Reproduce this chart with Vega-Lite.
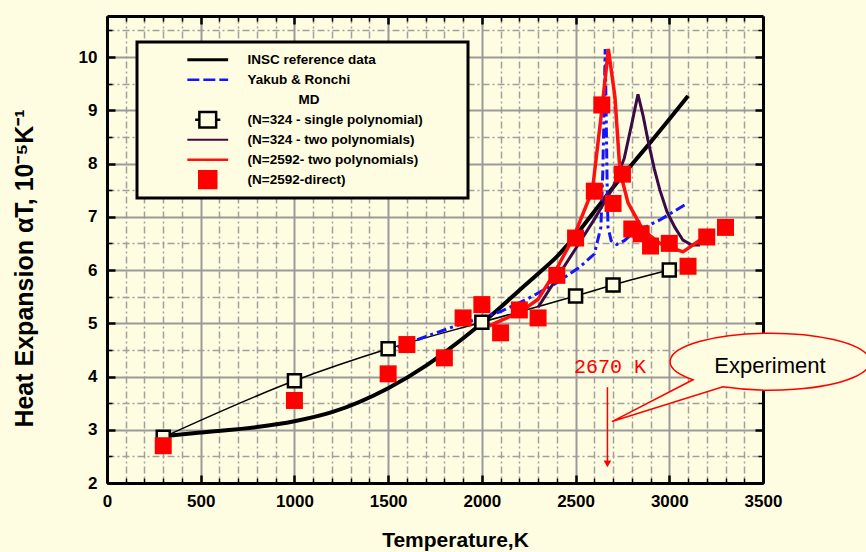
{
  "$schema": "https://vega.github.io/schema/vega-lite/v6.json",
  "width": 656,
  "height": 467,
  "autosize": {"type": "none"},
  "padding": {"left": 107, "top": 16, "right": 103, "bottom": 69},
  "background": "#fffde1",
  "config": {"view": {"stroke": null}, "font": "Liberation Sans"},
  "data": {"values": [
    {"series": "(N=324 - single polynomial)", "T": 300, "a": 2.86},
    {"series": "(N=324 - single polynomial)", "T": 1000, "a": 3.92},
    {"series": "(N=324 - single polynomial)", "T": 1500, "a": 4.52},
    {"series": "(N=324 - single polynomial)", "T": 2000, "a": 5.02},
    {"series": "(N=324 - single polynomial)", "T": 2500, "a": 5.51},
    {"series": "(N=324 - single polynomial)", "T": 2700, "a": 5.72},
    {"series": "(N=324 - single polynomial)", "T": 3000, "a": 6.0},
    {"series": "INSC reference data", "T": 300, "a": 2.88},
    {"series": "INSC reference data", "T": 500, "a": 2.95},
    {"series": "INSC reference data", "T": 800, "a": 3.05},
    {"series": "INSC reference data", "T": 1000, "a": 3.16},
    {"series": "INSC reference data", "T": 1200, "a": 3.33},
    {"series": "INSC reference data", "T": 1500, "a": 3.78},
    {"series": "INSC reference data", "T": 1700, "a": 4.2},
    {"series": "INSC reference data", "T": 1800, "a": 4.45},
    {"series": "INSC reference data", "T": 2000, "a": 5.0},
    {"series": "INSC reference data", "T": 2100, "a": 5.3},
    {"series": "INSC reference data", "T": 2200, "a": 5.62},
    {"series": "INSC reference data", "T": 2300, "a": 5.93},
    {"series": "INSC reference data", "T": 2400, "a": 6.25},
    {"series": "INSC reference data", "T": 2500, "a": 6.65},
    {"series": "INSC reference data", "T": 2600, "a": 7.1},
    {"series": "INSC reference data", "T": 2700, "a": 7.55},
    {"series": "INSC reference data", "T": 2800, "a": 7.98},
    {"series": "INSC reference data", "T": 2900, "a": 8.4},
    {"series": "INSC reference data", "T": 3000, "a": 8.83},
    {"series": "INSC reference data", "T": 3100, "a": 9.27},
    {"series": "Yakub & Ronchi", "T": 1550, "a": 4.55},
    {"series": "Yakub & Ronchi", "T": 1700, "a": 4.75},
    {"series": "Yakub & Ronchi", "T": 1900, "a": 5.0},
    {"series": "Yakub & Ronchi", "T": 2100, "a": 5.22},
    {"series": "Yakub & Ronchi", "T": 2250, "a": 5.47},
    {"series": "Yakub & Ronchi", "T": 2400, "a": 5.76},
    {"series": "Yakub & Ronchi", "T": 2520, "a": 6.05},
    {"series": "Yakub & Ronchi", "T": 2600, "a": 6.3},
    {"series": "Yakub & Ronchi", "T": 2635, "a": 6.8},
    {"series": "Yakub & Ronchi", "T": 2645, "a": 7.8},
    {"series": "Yakub & Ronchi", "T": 2652, "a": 9.0},
    {"series": "Yakub & Ronchi", "T": 2658, "a": 10.15},
    {"series": "Yakub & Ronchi", "T": 2663, "a": 9.0},
    {"series": "Yakub & Ronchi", "T": 2668, "a": 7.7},
    {"series": "Yakub & Ronchi", "T": 2673, "a": 6.8},
    {"series": "Yakub & Ronchi", "T": 2690, "a": 6.55},
    {"series": "Yakub & Ronchi", "T": 2720, "a": 6.48},
    {"series": "Yakub & Ronchi", "T": 2760, "a": 6.55},
    {"series": "Yakub & Ronchi", "T": 2806, "a": 6.69},
    {"series": "Yakub & Ronchi", "T": 2950, "a": 6.94},
    {"series": "Yakub & Ronchi", "T": 3100, "a": 7.26},
    {"series": "(N=324 - two polynomials)", "T": 2300, "a": 5.3},
    {"series": "(N=324 - two polynomials)", "T": 2400, "a": 5.85},
    {"series": "(N=324 - two polynomials)", "T": 2500, "a": 6.4},
    {"series": "(N=324 - two polynomials)", "T": 2600, "a": 6.95},
    {"series": "(N=324 - two polynomials)", "T": 2700, "a": 7.55},
    {"series": "(N=324 - two polynomials)", "T": 2760, "a": 8.1},
    {"series": "(N=324 - two polynomials)", "T": 2800, "a": 8.75},
    {"series": "(N=324 - two polynomials)", "T": 2833, "a": 9.3},
    {"series": "(N=324 - two polynomials)", "T": 2860, "a": 8.9},
    {"series": "(N=324 - two polynomials)", "T": 2886, "a": 8.44},
    {"series": "(N=324 - two polynomials)", "T": 2920, "a": 7.9},
    {"series": "(N=324 - two polynomials)", "T": 2950, "a": 7.5},
    {"series": "(N=324 - two polynomials)", "T": 2988, "a": 7.09},
    {"series": "(N=324 - two polynomials)", "T": 3030, "a": 6.8},
    {"series": "(N=324 - two polynomials)", "T": 3073, "a": 6.56},
    {"series": "(N=324 - two polynomials)", "T": 3120, "a": 6.47},
    {"series": "(N=324 - two polynomials)", "T": 3164, "a": 6.47},
    {"series": "(N=2592- two polynomials)", "T": 2040, "a": 4.95},
    {"series": "(N=2592- two polynomials)", "T": 2100, "a": 5.05},
    {"series": "(N=2592- two polynomials)", "T": 2200, "a": 5.2},
    {"series": "(N=2592- two polynomials)", "T": 2300, "a": 5.45},
    {"series": "(N=2592- two polynomials)", "T": 2380, "a": 5.9},
    {"series": "(N=2592- two polynomials)", "T": 2490, "a": 6.62},
    {"series": "(N=2592- two polynomials)", "T": 2590, "a": 7.5},
    {"series": "(N=2592- two polynomials)", "T": 2640, "a": 9.0},
    {"series": "(N=2592- two polynomials)", "T": 2675, "a": 10.15},
    {"series": "(N=2592- two polynomials)", "T": 2710, "a": 9.25},
    {"series": "(N=2592- two polynomials)", "T": 2737, "a": 7.85},
    {"series": "(N=2592- two polynomials)", "T": 2780, "a": 7.26},
    {"series": "(N=2592- two polynomials)", "T": 2860, "a": 6.75},
    {"series": "(N=2592- two polynomials)", "T": 2950, "a": 6.5},
    {"series": "(N=2592- two polynomials)", "T": 3073, "a": 6.34},
    {"series": "(N=2592- two polynomials)", "T": 3180, "a": 6.6},
    {"series": "(N=2592-direct)", "T": 300, "a": 2.7},
    {"series": "(N=2592-direct)", "T": 1000, "a": 3.55},
    {"series": "(N=2592-direct)", "T": 1500, "a": 4.05},
    {"series": "(N=2592-direct)", "T": 1600, "a": 4.6},
    {"series": "(N=2592-direct)", "T": 1800, "a": 4.35},
    {"series": "(N=2592-direct)", "T": 1900, "a": 5.1},
    {"series": "(N=2592-direct)", "T": 2000, "a": 5.35},
    {"series": "(N=2592-direct)", "T": 2100, "a": 4.82},
    {"series": "(N=2592-direct)", "T": 2200, "a": 5.25},
    {"series": "(N=2592-direct)", "T": 2300, "a": 5.1},
    {"series": "(N=2592-direct)", "T": 2400, "a": 5.9},
    {"series": "(N=2592-direct)", "T": 2500, "a": 6.6},
    {"series": "(N=2592-direct)", "T": 2600, "a": 7.48},
    {"series": "(N=2592-direct)", "T": 2640, "a": 9.1},
    {"series": "(N=2592-direct)", "T": 2700, "a": 7.25},
    {"series": "(N=2592-direct)", "T": 2750, "a": 7.8},
    {"series": "(N=2592-direct)", "T": 2800, "a": 6.77},
    {"series": "(N=2592-direct)", "T": 2850, "a": 6.68},
    {"series": "(N=2592-direct)", "T": 2900, "a": 6.45},
    {"series": "(N=2592-direct)", "T": 3000, "a": 6.5},
    {"series": "(N=2592-direct)", "T": 3100, "a": 6.07},
    {"series": "(N=2592-direct)", "T": 3200, "a": 6.62},
    {"series": "(N=2592-direct)", "T": 3300, "a": 6.8}
  ]},
  "layer": [
    {
      "transform": [{"filter": "datum.series === '(N=324 - single polynomial)'"}],
      "mark": {"type": "line", "strokeWidth": 1.5, "interpolate": "monotone"},
      "encoding": {
        "x": {"field": "T", "type": "quantitative", "scale": {"domain": [0, 3500], "nice": false, "zero": false},
          "axis": {"orient": "bottom", "values": [0, 500, 1000, 1500, 2000, 2500, 3000, 3500], "format": "d",
            "title": "Temperature,K", "titleFont": "Liberation Sans", "titleFontSize": 21, "titleFontWeight": "bold", "titleColor": "black",
            "titleX": 348, "titleY": 57, "titleBaseline": "middle", "titleAlign": "center",
            "labelFont": "Liberation Sans Narrow, Liberation Sans", "labelFontSize": 17, "labelFontWeight": "bold", "labelColor": "black", "labelPadding": 18,
            "labelFlush": false, "labelOverlap": false,
            "tickSize": -8, "tickWidth": 2.5, "tickColor": "black",
            "domain": true, "domainColor": "black", "domainWidth": 3,
            "grid": true, "gridColor": "#9a9a9a", "gridWidth": 2, "gridOpacity": 1}},
        "y": {"field": "a", "type": "quantitative", "scale": {"domain": [2, 10.77], "nice": false, "zero": false},
          "axis": {"orient": "left", "values": [2, 3, 4, 5, 6, 7, 8, 9, 10], "format": "d",
            "title": "Heat Expansion αT, 10⁻⁵K⁻¹", "titleFont": "Liberation Sans Narrow, Liberation Sans", "titleFontSize": 25, "titleFontWeight": "bold", "titleColor": "black",
            "titleX": -83, "titleY": 252, "titleAngle": 270, "titleBaseline": "middle", "titleAlign": "center",
            "labelFont": "Liberation Sans Narrow, Liberation Sans", "labelFontSize": 17, "labelFontWeight": "bold", "labelColor": "black", "labelPadding": 18,
            "labelFlush": false, "labelOverlap": false,
            "tickSize": -8, "tickWidth": 2.5, "tickColor": "black",
            "domain": true, "domainColor": "black", "domainWidth": 3,
            "grid": true, "gridColor": "#9a9a9a", "gridWidth": 2, "gridOpacity": 1}},
        "color": {"field": "series", "type": "nominal",
          "scale": {"domain": ["INSC reference data", "Yakub & Ronchi", "MD", "(N=324 - single polynomial)", "(N=324 - two polynomials)", "(N=2592- two polynomials)", "(N=2592-direct)"],
                    "range": ["#000000", "#1414ff", "transparent", "#000000", "#3c0a44", "#ff1010", "#ff0000"]},
          "legend": {"orient": "none", "legendX": 30, "legendY": 26, "direction": "vertical",
            "title": ".", "titleOrient": "right", "titleColor": "transparent", "titleFontSize": 12, "titlePadding": 33,
            "padding": 8, "strokeColor": "black", "fillColor": "#fffde1",
            "symbolType": "stroke", "symbolSize": 144, "symbolOffset": 56, "labelOffset": 33, "rowPadding": 0, "clipHeight": 19.5,
            "labelFont": "Liberation Sans", "labelFontSize": 13.5, "labelFontWeight": "bold", "labelColor": "black", "labelBaseline": "middle", "labelLimit": 400,
            "encode": {
              "legend": {"update": {"strokeWidth": {"value": 3}}},
              "symbols": {"update": {
                "shape": {"signal": "datum.value === '(N=2592-direct)' ? 'M -1.42 -1.42 H 1.42 V 1.42 H -1.42 Z' : datum.value === '(N=324 - single polynomial)' ? 'M -2.1 0 H -1.4 M 1.4 0 H 2.1 M -1.4 -1.3 H 1.4 V 1.3 H -1.4 Z' : 'M -3.4 0 H 3.4'"},
                "stroke": {"signal": "datum.value === 'INSC reference data' || datum.value === '(N=324 - single polynomial)' ? '#000000' : datum.value === 'Yakub & Ronchi' ? '#1414ff' : datum.value === '(N=324 - two polynomials)' ? '#7d5d84' : datum.value === '(N=2592- two polynomials)' ? '#ff1010' : 'transparent'"},
                "fill": {"signal": "datum.value === '(N=2592-direct)' ? '#ff0000' : datum.value === '(N=324 - single polynomial)' ? '#fffde1' : 'transparent'"},
                "strokeWidth": {"signal": "datum.value === 'INSC reference data' ? 3 : datum.value === '(N=324 - two polynomials)' ? 2.2 : 2.5"},
                "strokeDash": {"signal": "datum.value === 'Yakub & Ronchi' ? [12, 4] : [1, 0]"},
                "opacity": {"signal": "datum.value === 'MD' ? 0 : 1"}
              }},
              "labels": {"update": {"dx": {"signal": "datum.value === 'MD' ? 51 : 0"}}}
            }}}
      }
    },
    {
      "transform": [{"filter": "datum.series === 'INSC reference data'"}],
      "mark": {"type": "line", "strokeWidth": 4, "interpolate": "monotone"},
      "encoding": {
        "x": {"field": "T", "type": "quantitative",
          "axis": {"orient": "bottom", "values": [100, 200, 300, 400, 600, 700, 800, 900, 1100, 1200, 1300, 1400, 1600, 1700, 1800, 1900, 2100, 2200, 2300, 2400, 2600, 2700, 2800, 2900, 3100, 3200, 3300, 3400],
            "labels": false, "title": null, "domain": false, "tickSize": -5, "tickWidth": 1.5, "tickColor": "black",
            "grid": true, "gridColor": "#a0a0a0", "gridWidth": 1.5, "gridDash": [7, 3, 2, 3], "gridOpacity": 1}},
        "y": {"field": "a", "type": "quantitative",
          "axis": {"orient": "left", "values": [2.5, 3.5, 4.5, 5.5, 6.5, 7.5, 8.5, 9.5, 10.5],
            "labels": false, "title": null, "domain": false, "tickSize": -5, "tickWidth": 1.5, "tickColor": "black",
            "grid": true, "gridColor": "#a0a0a0", "gridWidth": 1.5, "gridDash": [7, 3, 2, 3], "gridOpacity": 1}},
        "color": {"field": "series", "type": "nominal"}
      }
    },
    {
      "transform": [{"filter": "datum.series === 'Yakub & Ronchi'"}],
      "mark": {"type": "line", "strokeWidth": 3, "strokeDash": [10, 4, 3, 4]},
      "encoding": {
        "x": {"field": "T", "type": "quantitative",
          "axis": {"orient": "top", "values": [0, 500, 1000, 1500, 2000, 2500, 3000, 3500], "labels": false, "title": null,
            "domain": true, "domainColor": "black", "domainWidth": 3, "tickSize": -8, "tickWidth": 2.5, "tickColor": "black", "grid": false}},
        "y": {"field": "a", "type": "quantitative",
          "axis": {"orient": "right", "values": [2, 3, 4, 5, 6, 7, 8, 9, 10], "labels": false, "title": null,
            "domain": true, "domainColor": "black", "domainWidth": 3, "tickSize": -8, "tickWidth": 2.5, "tickColor": "black", "grid": false}},
        "color": {"field": "series", "type": "nominal"}
      }
    },
    {
      "transform": [{"filter": "datum.series === '(N=324 - two polynomials)'"}],
      "mark": {"type": "line", "strokeWidth": 3},
      "encoding": {
        "x": {"field": "T", "type": "quantitative",
          "axis": {"orient": "top", "values": [100, 200, 300, 400, 600, 700, 800, 900, 1100, 1200, 1300, 1400, 1600, 1700, 1800, 1900, 2100, 2200, 2300, 2400, 2600, 2700, 2800, 2900, 3100, 3200, 3300, 3400],
            "labels": false, "title": null, "domain": false, "tickSize": -5, "tickWidth": 1.5, "tickColor": "black", "grid": false}},
        "y": {"field": "a", "type": "quantitative",
          "axis": {"orient": "right", "values": [2.5, 3.5, 4.5, 5.5, 6.5, 7.5, 8.5, 9.5, 10.5],
            "labels": false, "title": null, "domain": false, "tickSize": -5, "tickWidth": 1.5, "tickColor": "black", "grid": false}},
        "color": {"field": "series", "type": "nominal"}
      }
    },
    {
      "transform": [{"filter": "datum.series === '(N=2592- two polynomials)'"}],
      "mark": {"type": "line", "strokeWidth": 3.5},
      "encoding": {
        "x": {"field": "T", "type": "quantitative", "axis": null},
        "y": {"field": "a", "type": "quantitative", "axis": null},
        "color": {"field": "series", "type": "nominal"}
      }
    },
    {
      "transform": [{"filter": "datum.series === '(N=324 - single polynomial)'"}],
      "mark": {"type": "point", "shape": "square", "size": 169, "filled": true, "fill": "#fffde1", "stroke": "#000000", "strokeWidth": 2.5, "opacity": 1},
      "encoding": {
        "x": {"field": "T", "type": "quantitative", "axis": null},
        "y": {"field": "a", "type": "quantitative", "axis": null}
      }
    },
    {
      "transform": [{"filter": "datum.series === '(N=2592-direct)'"}],
      "mark": {"type": "point", "shape": "square", "size": 289, "filled": true, "color": "#ff0000", "opacity": 1},
      "encoding": {
        "x": {"field": "T", "type": "quantitative", "axis": null},
        "y": {"field": "a", "type": "quantitative", "axis": null}
      }
    },
    {
      "data": {"values": [{"T": 2670, "a": 3.8, "a2": 2.36}]},
      "mark": {"type": "rule", "color": "#ff0000", "strokeWidth": 1.5},
      "encoding": {
        "x": {"field": "T", "type": "quantitative", "axis": null},
        "y": {"field": "a", "type": "quantitative", "axis": null},
        "y2": {"field": "a2"}
      }
    },
    {
      "data": {"values": [{"T": 2670, "a": 2.36}]},
      "mark": {"type": "point", "shape": "triangle-down", "size": 60, "filled": true, "color": "#ff0000", "opacity": 1},
      "encoding": {
        "x": {"field": "T", "type": "quantitative", "axis": null},
        "y": {"field": "a", "type": "quantitative", "axis": null}
      }
    },
    {
      "data": {"values": [{"T": 2684, "a": 4.18, "label": "2670 K"}]},
      "mark": {"type": "text", "font": "Liberation Mono", "fontSize": 20, "color": "#ff0000", "align": "center", "baseline": "middle"},
      "encoding": {
        "x": {"field": "T", "type": "quantitative", "axis": null},
        "y": {"field": "a", "type": "quantitative", "axis": null},
        "text": {"field": "label"}
      }
    },
    {
      "data": {"values": [{"T": 3537, "a": 4.28}]},
      "mark": {"type": "point", "shape": "M -0.47 0.252 A 1 0.285 0 1 0 -0.77 0.182 L -1.58 0.6 Z", "size": 40000, "filled": true, "fill": "#fffde1", "stroke": "#ff0000", "strokeWidth": 1.5, "opacity": 1},
      "encoding": {
        "x": {"field": "T", "type": "quantitative", "axis": null},
        "y": {"field": "a", "type": "quantitative", "axis": null}
      }
    },
    {
      "data": {"values": [{"T": 3537, "a": 4.2, "label": "Experiment"}]},
      "mark": {"type": "text", "font": "Liberation Sans", "fontSize": 22, "color": "#000000", "align": "center", "baseline": "middle"},
      "encoding": {
        "x": {"field": "T", "type": "quantitative", "axis": null},
        "y": {"field": "a", "type": "quantitative", "axis": null},
        "text": {"field": "label"}
      }
    }
  ],
  "resolve": {"axis": {"x": "independent", "y": "independent"}}
}
